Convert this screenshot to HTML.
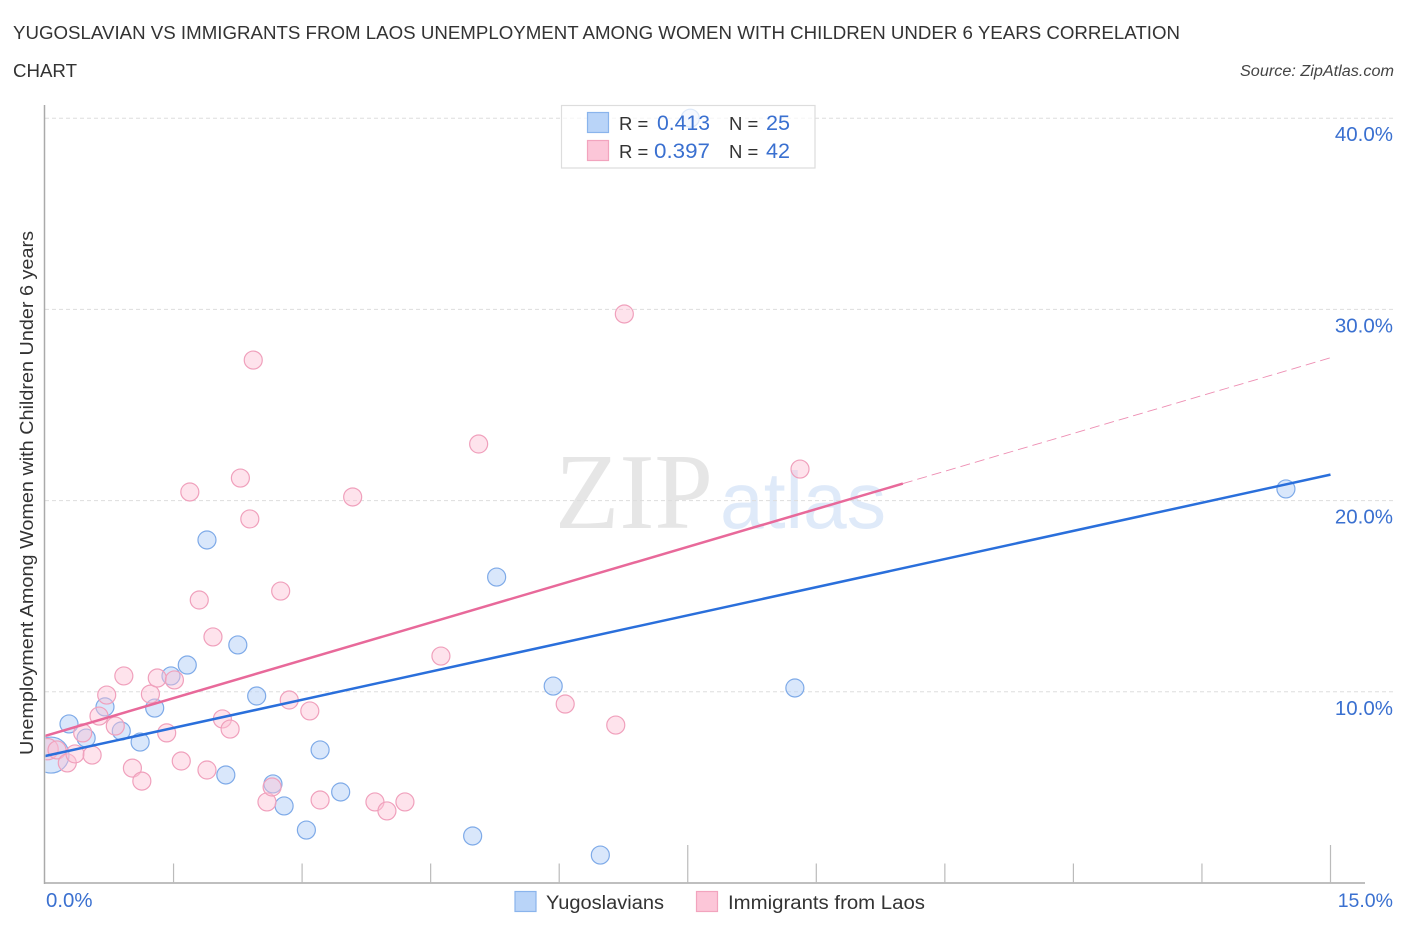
<!DOCTYPE html>
<html lang="en">
<head>
<meta charset="utf-8">
<title>Yugoslavian vs Immigrants from Laos correlation chart</title>
<style>
html,body{margin:0;padding:0;background:#fff;}
body{width:1406px;height:930px;overflow:hidden;}
svg{display:block;font-family:"Liberation Sans",sans-serif;}
</style>
</head>
<body>
<svg id="chart" width="1406" height="930" viewBox="0 0 1406 930" xmlns="http://www.w3.org/2000/svg">
  <defs>
    <clipPath id="plot-clip"><rect x="45.5" y="100" width="1300" height="783"/></clipPath>
  </defs>
  <rect x="0" y="0" width="1406" height="930" fill="#fff"/>

  <text x="13" y="39" font-size="18.5" fill="#333" textLength="1167" lengthAdjust="spacingAndGlyphs">YUGOSLAVIAN VS IMMIGRANTS FROM LAOS UNEMPLOYMENT AMONG WOMEN WITH CHILDREN UNDER 6 YEARS CORRELATION</text>
  <text x="13" y="77" font-size="18.5" fill="#333" textLength="64" lengthAdjust="spacingAndGlyphs">CHART</text>
  <text x="1394" y="76" font-size="15.5" font-style="italic" fill="#444" text-anchor="end" textLength="154" lengthAdjust="spacingAndGlyphs">Source: ZipAtlas.com</text>

  <g>
    <text x="555" y="528" font-family="'Liberation Serif',serif" font-size="108" fill="#e6e6e6" textLength="158" lengthAdjust="spacingAndGlyphs">ZIP</text>
    <text x="720" y="528" font-size="80" fill="#dfeaf9" textLength="166" lengthAdjust="spacingAndGlyphs">atlas</text>
  </g>

  <g id="grid"></g>
  <g id="points" clip-path="url(#plot-clip)"></g>
  <g id="trends" clip-path="url(#plot-clip)"></g>
  <g id="axes"></g>

  <text transform="translate(33,755) rotate(-90)" x="0" y="0" font-size="18.5" fill="#333" textLength="524" lengthAdjust="spacingAndGlyphs">Unemployment Among Women with Children Under 6 years</text>

  <g>
    <rect x="561.5" y="105.5" width="253.5" height="62.5" fill="#fff" fill-opacity="0.72" stroke="#ddd" stroke-width="1.2"/>
    <rect x="587.5" y="112.5" width="21" height="20" fill="#b9d4f8" stroke="#8ab4ec" stroke-width="1.2"/>
    <rect x="587.5" y="140.5" width="21" height="20" fill="#fcc6d8" stroke="#f2a4be" stroke-width="1.2"/>
    <text x="619" y="130" font-size="18.5" fill="#333">R =</text>
    <text x="657" y="130" font-size="21" fill="#3a70d0" textLength="53" lengthAdjust="spacingAndGlyphs">0.413</text>
    <text x="729" y="130" font-size="18.5" fill="#333">N =</text>
    <text x="766" y="130" font-size="21" fill="#3a70d0" textLength="24" lengthAdjust="spacingAndGlyphs">25</text>
    <text x="619" y="158" font-size="18.5" fill="#333">R =</text>
    <text x="654" y="158" font-size="21" fill="#3a70d0" textLength="56" lengthAdjust="spacingAndGlyphs">0.397</text>
    <text x="729" y="158" font-size="18.5" fill="#333">N =</text>
    <text x="766" y="158" font-size="21" fill="#3a70d0" textLength="24" lengthAdjust="spacingAndGlyphs">42</text>
  </g>

  <g>
    <rect x="515" y="891.5" width="21" height="20" fill="#b9d4f8" stroke="#8ab4ec" stroke-width="1.2"/>
    <text x="546" y="909" font-size="19" fill="#333" textLength="118" lengthAdjust="spacingAndGlyphs">Yugoslavians</text>
    <rect x="696.5" y="891.5" width="21" height="20" fill="#fcc6d8" stroke="#f2a4be" stroke-width="1.2"/>
    <text x="728" y="909" font-size="19" fill="#333" textLength="197" lengthAdjust="spacingAndGlyphs">Immigrants from Laos</text>
  </g>
</svg>
<script>
var yugoslavianX = [0.07,0.28,0.48,0.70,0.89,1.11,1.28,1.47,1.66,1.89,2.11,2.25,2.47,2.66,2.79,3.05,3.21,3.45,4.99,5.27,5.93,6.48,7.53,8.75,14.48];
var yugoslavianY = [6.69,8.32,7.58,9.21,7.95,7.37,9.15,10.83,11.40,17.94,5.65,12.45,9.78,5.18,4.03,2.77,6.96,4.76,2.46,16.00,10.30,1.46,40.00,10.20,20.61];
var yugoslavianWeight = [4,1,1,1,1,1,1,1,1,1,1,1,1,1,1,1,1,1,1,1,1,1,1,1,1];

var laosX = [0.03,0.14,0.26,0.35,0.44,0.55,0.63,0.72,0.82,0.92,1.02,1.13,1.23,1.31,1.42,1.51,1.59,1.69,1.80,1.89,1.96,2.07,2.16,2.28,2.39,2.43,2.59,2.65,2.75,2.85,3.09,3.21,3.59,3.85,3.99,4.20,4.62,5.06,6.07,6.66,6.76,8.81];
var laosY = [7.00,6.96,6.28,6.75,7.85,6.69,8.73,9.83,8.21,10.83,6.01,5.33,9.88,10.72,7.85,10.62,6.38,20.45,14.80,5.91,12.87,8.58,8.05,21.18,19.04,27.35,4.24,5.02,15.27,9.57,9.00,4.34,20.19,4.24,3.77,4.24,11.87,22.96,9.36,8.26,29.76,21.65];
var laosWeight = [1.4,1,1,1,1,1,1,1,1,1,1,1,1,1,1,1,1,1,1,1,1,1,1,1,1,1,1,1,1,1,1,1,1,1,1,1,1,1,1,1,1,1];

var yugoslavianTrend = [6.64, 21.36];
var laosTrend = [7.69, 27.47];
var trendDomain = [0, 15];
var laosSolidEnd = 10.01;

var yTickValues = [10, 20, 30, 40];
var yTickLabels = ["10.0%", "20.0%", "30.0%", "40.0%"];
var xTickValues = [1.5, 3, 4.5, 6, 7.5, 9, 10.5, 12, 13.5, 15];
var xTickMajor = [false, false, false, false, true, false, false, false, false, true];
var xEndLabels = ["0.0%", "15.0%"];

function xScale(v) { return 45 + v * 85.7; }
function yScale(v) { return 883 - v * 19.12; }
function rScale(w) { return 9 * Math.sqrt(w); }

var NS = "http://www.w3.org/2000/svg";
function make(tag, parent, attrs) {
  var el = document.createElementNS(NS, tag);
  for (var k in attrs) el.setAttribute(k, attrs[k]);
  parent.appendChild(el);
  return el;
}

var grid = document.getElementById("grid");
var axes = document.getElementById("axes");
var points = document.getElementById("points");
var trends = document.getElementById("trends");

yTickValues.concat([]).forEach(function (v, i) {
  var line = make("line", grid, { x1: 45, x2: 1395, y1: yScale(v), y2: yScale(v), stroke: "#ddd", "stroke-width": 1, "stroke-dasharray": "4 3" });
  
  
  var label = make("text", axes, { x: 1393, y: yScale(v) + 23, "text-anchor": "end", "font-size": 20.5, fill: "#3a70d0" });
  label.textContent = yTickLabels[i];
  
  
});

var yAxis = make("line", axes, { x1: 44.5, x2: 44.5, y1: 105, y2: 884, stroke: "#aaa", "stroke-width": 1.5 });


var xAxis = make("line", axes, { x1: 44, x2: 1365, y1: 883, y2: 883, stroke: "#aaa", "stroke-width": 1.5 });



xTickValues.forEach(function (v, i) {
  var tick = make("line", axes, { x1: xScale(v), x2: xScale(v), y1: xTickMajor[i] ? 845 : 863.5, y2: 883, stroke: "#bbb", "stroke-width": 1.2 });
  
  
});

var xStart = make("text", axes, { x: 46, y: 907, "font-size": 20.4, fill: "#3a70d0" });
xStart.textContent = xEndLabels[0];


var xEnd = make("text", axes, { x: 1393, y: 907, "text-anchor": "end", "font-size": 19.5, fill: "#3a70d0" });
xEnd.textContent = xEndLabels[1];



yugoslavianX.forEach(function (v, i) {
  var c = make("circle", points, { cx: xScale(v), cy: yScale(yugoslavianY[i]), r: rScale(yugoslavianWeight[i]), fill: "#b9d4f8", "fill-opacity": 0.55, stroke: "#7eaae8", "stroke-width": 1.2 });
  
  
});
laosX.forEach(function (v, i) {
  var c = make("circle", points, { cx: xScale(v), cy: yScale(laosY[i]), r: rScale(laosWeight[i]), fill: "#fcc0d4", "fill-opacity": 0.45, stroke: "#f0a0bc", "stroke-width": 1.2 });
  
  
});

function trendAt(trend, x) {
  return trend[0] + (trend[1] - trend[0]) * (x - trendDomain[0]) / (trendDomain[1] - trendDomain[0]);
}
var laosDash = make("line", trends, { x1: xScale(laosSolidEnd), y1: yScale(trendAt(laosTrend, laosSolidEnd)), x2: xScale(trendDomain[1]), y2: yScale(laosTrend[1]), stroke: "#e8699a", "stroke-width": 0.9, "stroke-dasharray": "10 5", opacity: 0.75 });


var laosSolid = make("line", trends, { x1: xScale(trendDomain[0]), y1: yScale(laosTrend[0]), x2: xScale(laosSolidEnd), y2: yScale(trendAt(laosTrend, laosSolidEnd)), stroke: "#e8699a", "stroke-width": 2.5 });


var yugoSolid = make("line", trends, { x1: xScale(trendDomain[0]), y1: yScale(yugoslavianTrend[0]), x2: xScale(trendDomain[1]), y2: yScale(yugoslavianTrend[1]), stroke: "#2a6fdb", "stroke-width": 2.5 });


</script>
</body>
</html>
